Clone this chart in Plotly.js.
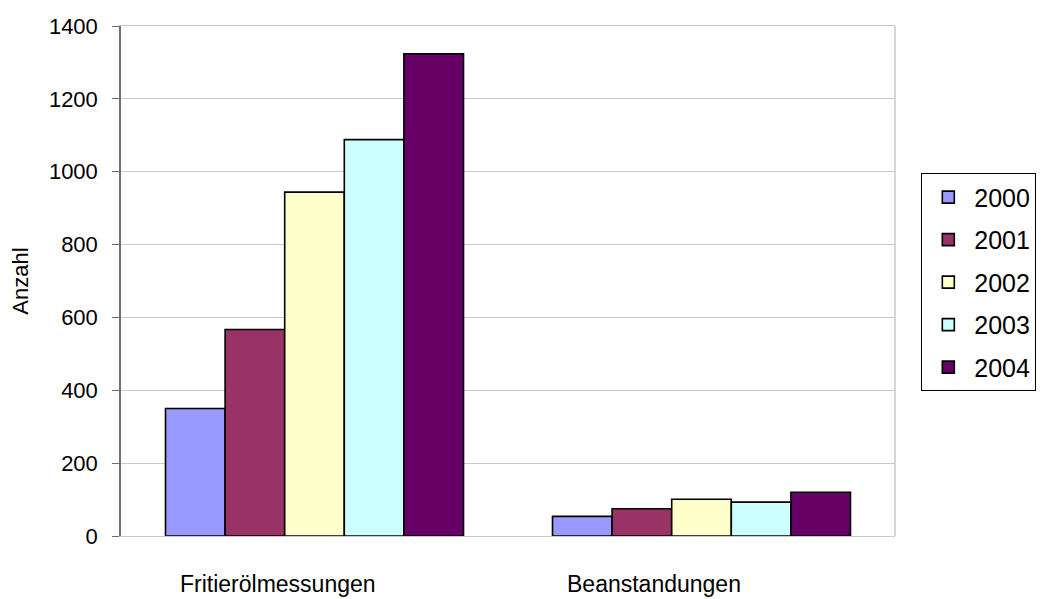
<!DOCTYPE html>
<html>
<head>
<meta charset="utf-8">
<script src="https://cdn.plot.ly/plotly-3.0.1.min.js"></script>
<style>
  html, body { margin: 0; padding: 0; background: #ffffff; }
  #chart { width: 1058px; height: 599px; }
</style>
</head>
<body>
<div id="chart"></div>
<script>
// Kategorien und Jahreswerte (Anzahl)
const categories = ['Fritierölmessungen', 'Beanstandungen'];
const years = ['2000', '2001', '2002', '2003', '2004'];
const values2000 = [350, 54];
const values2001 = [567, 75];
const values2002 = [944, 101];
const values2003 = [1088, 93];
const values2004 = [1324, 120];
const yTicks = [0, 200, 400, 600, 800, 1000, 1200, 1400];

const seriesValues = [values2000, values2001, values2002, values2003, values2004];
const barColors = ['#9999ff', '#993366', '#ffffcc', '#ccffff', '#660066'];

const font = 'Arial, "Liberation Sans", sans-serif';

const traces = years.map((yr, i) => ({
  type: 'bar',
  name: yr,
  x: categories,
  y: seriesValues[i],
  legendgroup: yr,
  marker: { color: barColors[i], line: { color: '#000000', width: 1.6 } },
  hoverinfo: 'x+y+name'
}));

// Kategoriebeschriftungen unter der Achse
const catLabels = categories.map(c => ({
  x: c, xref: 'x', y: 0, yref: 'paper',
  text: c, showarrow: false,
  xanchor: 'left', yanchor: 'middle',
  xshift: -137, yshift: -48,
  font: { family: font, size: 23, color: '#000000' }
}));

const layout = {
  width: 1058, height: 599,
  margin: { l: 121, r: 163, t: 26, b: 63 },
  paper_bgcolor: '#ffffff',
  plot_bgcolor: '#ffffff',
  font: { family: font, color: '#000000' },
  barmode: 'group',
  bargap: 0.23,
  bargroupgap: 0,
  showlegend: true,
  legend: {
    x: 1.034, xanchor: 'left',
    y: 0.711, yanchor: 'top',
    bgcolor: '#ffffff',
    bordercolor: '#000000', borderwidth: 1,
    font: { family: font, size: 25, color: '#000000' },
    traceorder: 'grouped',
    tracegroupgap: 7,
    itemwidth: 42
  },
  xaxis: {
    type: 'category',
    showticklabels: false,
    ticks: '',
    showgrid: false,
    showline: true, linecolor: '#c8c8c8', linewidth: 1,
    mirror: true,
    zeroline: false,
    fixedrange: true
  },
  yaxis: {
    range: [0, 1400],
    tickvals: yTicks,
    ticktext: yTicks.map(String),
    ticks: 'outside', ticklen: 7, tickcolor: '#6e6e6e', tickwidth: 1,
    ticklabelstandoff: 10,
    tickfont: { family: font, size: 22, color: '#000000' },
    showgrid: true, gridcolor: '#c8c8c8', gridwidth: 1,
    showline: true, linecolor: '#6e6e6e', linewidth: 1.5,
    zeroline: false,
    title: { text: 'Anzahl', font: { family: font, size: 22, color: '#000000' }, standoff: 14 },
    fixedrange: true
  },
  shapes: [{
    type: 'line', xref: 'paper', yref: 'paper',
    x0: 1, x1: 1, y0: 0, y1: 1,
    line: { color: '#c8c8c8', width: 1.5 }
  }],
  annotations: catLabels
};

Plotly.newPlot('chart', traces, layout, { displayModeBar: false, staticPlot: false });
</script>
</body>
</html>
